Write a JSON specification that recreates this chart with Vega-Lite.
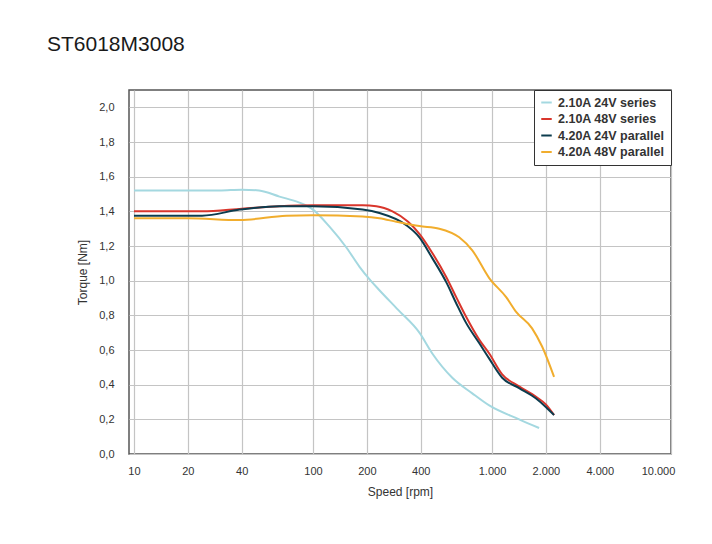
{
  "$schema": "https://vega.github.io/schema/vega-lite/v6.json",
  "autosize": {"type": "none"},
  "padding": {"left": 129, "top": 90, "right": 41, "bottom": 90},
  "width": 542,
  "height": 364,
  "background": "white",
  "title": {
    "text": "ST6018M3008",
    "anchor": "start",
    "frame": "group",
    "dx": -82,
    "offset": 18,
    "baseline": "alphabetic",
    "font": "Liberation Sans",
    "fontSize": 21,
    "fontWeight": "normal",
    "color": "#1a1a1a"
  },
  "data": {
    "values": [
      {"series": "2.10A 24V series", "speed": 10, "torque": 1.52},
      {"series": "2.10A 24V series", "speed": 20, "torque": 1.52},
      {"series": "2.10A 24V series", "speed": 30, "torque": 1.52},
      {"series": "2.10A 24V series", "speed": 40, "torque": 1.525},
      {"series": "2.10A 24V series", "speed": 50, "torque": 1.52},
      {"series": "2.10A 24V series", "speed": 65, "torque": 1.485},
      {"series": "2.10A 24V series", "speed": 84, "torque": 1.45},
      {"series": "2.10A 24V series", "speed": 100, "torque": 1.41},
      {"series": "2.10A 24V series", "speed": 124, "torque": 1.31},
      {"series": "2.10A 24V series", "speed": 154, "torque": 1.19},
      {"series": "2.10A 24V series", "speed": 182, "torque": 1.08},
      {"series": "2.10A 24V series", "speed": 210, "torque": 1.0},
      {"series": "2.10A 24V series", "speed": 235, "torque": 0.945},
      {"series": "2.10A 24V series", "speed": 300, "torque": 0.83},
      {"series": "2.10A 24V series", "speed": 393, "torque": 0.7},
      {"series": "2.10A 24V series", "speed": 464, "torque": 0.58},
      {"series": "2.10A 24V series", "speed": 600, "torque": 0.44},
      {"series": "2.10A 24V series", "speed": 776, "torque": 0.35},
      {"series": "2.10A 24V series", "speed": 965, "torque": 0.28},
      {"series": "2.10A 24V series", "speed": 1418, "torque": 0.2},
      {"series": "2.10A 24V series", "speed": 1833, "torque": 0.15},

      {"series": "2.10A 48V series", "speed": 10, "torque": 1.4},
      {"series": "2.10A 48V series", "speed": 24, "torque": 1.4},
      {"series": "2.10A 48V series", "speed": 40, "torque": 1.415},
      {"series": "2.10A 48V series", "speed": 65, "torque": 1.43},
      {"series": "2.10A 48V series", "speed": 100, "torque": 1.435},
      {"series": "2.10A 48V series", "speed": 189, "torque": 1.435},
      {"series": "2.10A 48V series", "speed": 226, "torque": 1.43},
      {"series": "2.10A 48V series", "speed": 278, "torque": 1.4},
      {"series": "2.10A 48V series", "speed": 340, "torque": 1.34},
      {"series": "2.10A 48V series", "speed": 393, "torque": 1.27},
      {"series": "2.10A 48V series", "speed": 464, "torque": 1.16},
      {"series": "2.10A 48V series", "speed": 556, "torque": 1.02},
      {"series": "2.10A 48V series", "speed": 631, "torque": 0.905},
      {"series": "2.10A 48V series", "speed": 718, "torque": 0.79},
      {"series": "2.10A 48V series", "speed": 848, "torque": 0.66},
      {"series": "2.10A 48V series", "speed": 965, "torque": 0.58},
      {"series": "2.10A 48V series", "speed": 1140, "torque": 0.46},
      {"series": "2.10A 48V series", "speed": 1418, "torque": 0.39},
      {"series": "2.10A 48V series", "speed": 1763, "torque": 0.33},
      {"series": "2.10A 48V series", "speed": 2005, "torque": 0.285},
      {"series": "2.10A 48V series", "speed": 2222, "torque": 0.225},

      {"series": "4.20A 24V parallel", "speed": 10, "torque": 1.375},
      {"series": "4.20A 24V parallel", "speed": 24, "torque": 1.375},
      {"series": "4.20A 24V parallel", "speed": 39, "torque": 1.41},
      {"series": "4.20A 24V parallel", "speed": 65, "torque": 1.43},
      {"series": "4.20A 24V parallel", "speed": 100, "torque": 1.43},
      {"series": "4.20A 24V parallel", "speed": 189, "torque": 1.41},
      {"series": "4.20A 24V parallel", "speed": 235, "torque": 1.39},
      {"series": "4.20A 24V parallel", "speed": 332, "torque": 1.32},
      {"series": "4.20A 24V parallel", "speed": 393, "torque": 1.25},
      {"series": "4.20A 24V parallel", "speed": 464, "torque": 1.13},
      {"series": "4.20A 24V parallel", "speed": 556, "torque": 0.99},
      {"series": "4.20A 24V parallel", "speed": 631, "torque": 0.87},
      {"series": "4.20A 24V parallel", "speed": 718, "torque": 0.755},
      {"series": "4.20A 24V parallel", "speed": 848, "torque": 0.64},
      {"series": "4.20A 24V parallel", "speed": 965, "torque": 0.55},
      {"series": "4.20A 24V parallel", "speed": 1140, "torque": 0.44},
      {"series": "4.20A 24V parallel", "speed": 1418, "torque": 0.38},
      {"series": "4.20A 24V parallel", "speed": 1763, "torque": 0.32},
      {"series": "4.20A 24V parallel", "speed": 2005, "torque": 0.27},
      {"series": "4.20A 24V parallel", "speed": 2222, "torque": 0.225},

      {"series": "4.20A 48V parallel", "speed": 10, "torque": 1.36},
      {"series": "4.20A 48V parallel", "speed": 20, "torque": 1.36},
      {"series": "4.20A 48V parallel", "speed": 39, "torque": 1.35},
      {"series": "4.20A 48V parallel", "speed": 71, "torque": 1.375},
      {"series": "4.20A 48V parallel", "speed": 100, "torque": 1.378},
      {"series": "4.20A 48V parallel", "speed": 189, "torque": 1.37},
      {"series": "4.20A 48V parallel", "speed": 235, "torque": 1.36},
      {"series": "4.20A 48V parallel", "speed": 292, "torque": 1.34},
      {"series": "4.20A 48V parallel", "speed": 393, "torque": 1.315},
      {"series": "4.20A 48V parallel", "speed": 508, "torque": 1.3},
      {"series": "4.20A 48V parallel", "speed": 656, "torque": 1.25},
      {"series": "4.20A 48V parallel", "speed": 776, "torque": 1.175},
      {"series": "4.20A 48V parallel", "speed": 965, "torque": 1.015},
      {"series": "4.20A 48V parallel", "speed": 1200, "torque": 0.905},
      {"series": "4.20A 48V parallel", "speed": 1364, "torque": 0.82},
      {"series": "4.20A 48V parallel", "speed": 1675, "torque": 0.725},
      {"series": "4.20A 48V parallel", "speed": 1905, "torque": 0.62},
      {"series": "4.20A 48V parallel", "speed": 2222, "torque": 0.445}
    ]
  },
  "mark": {"type": "line", "interpolate": "monotone", "strokeWidth": 2},
  "encoding": {
    "x": {
      "field": "speed",
      "type": "quantitative",
      "scale": {"type": "log", "domain": [9.38, 10000], "nice": false},
      "axis": {
        "title": "Speed [rpm]",
        "values": [10, 20, 40, 100, 200, 400, 1000, 2000, 4000, 10000],
        "labelExpr": "datum.value >= 1000 ? replace(format(datum.value, ','), ',', '.') : format(datum.value, 'd')",
        "labelOffset": {"condition": {"test": "datum.value >= 10000", "value": -13}, "value": 0},
        "labelFlush": false,
        "labelBound": false,
        "labelOverlap": false,
        "labelPadding": 11,
        "titlePadding": 10
      }
    },
    "y": {
      "field": "torque",
      "type": "quantitative",
      "scale": {"domain": [0, 2.1], "nice": false, "zero": true},
      "axis": {
        "title": "Torque [Nm]",
        "values": [0, 0.2, 0.4, 0.6, 0.8, 1.0, 1.2, 1.4, 1.6, 1.8, 2.0],
        "labelExpr": "replace(format(datum.value, '.1f'), '.', ',')",
        "labelPadding": 15,
        "titlePadding": 9
      }
    },
    "color": {
      "field": "series",
      "type": "nominal",
      "scale": {
        "domain": ["2.10A 24V series", "2.10A 48V series", "4.20A 24V parallel", "4.20A 48V parallel"],
        "range": ["#a4d8e0", "#d9362c", "#0c3c4e", "#f1ad2d"]
      },
      "legend": {
        "title": null,
        "orient": "top-right",
        "offset": 0,
        "padding": 6,
        "strokeColor": "#333333",
        "fillColor": "white",
        "symbolType": "stroke",
        "symbolSize": 110,
        "symbolStrokeWidth": 2,
        "symbolOffset": 0,
        "labelOffset": 5,
        "labelFont": "Liberation Sans",
        "labelFontSize": 12.5,
        "labelFontWeight": "bold",
        "labelColor": "#333333",
        "rowPadding": 3.5
      }
    }
  },
  "config": {
    "font": "Liberation Sans",
    "view": {"stroke": "#555555", "strokeWidth": 1.5},
    "axis": {
      "domain": false,
      "ticks": false,
      "grid": true,
      "gridColor": "#c4c4c4",
      "gridWidth": 1.2,
      "labelFont": "Liberation Sans",
      "labelFontSize": 11,
      "labelColor": "#333333",
      "titleFont": "Liberation Sans",
      "titleFontSize": 12,
      "titleFontWeight": "normal",
      "titleColor": "#333333"
    }
  }
}
